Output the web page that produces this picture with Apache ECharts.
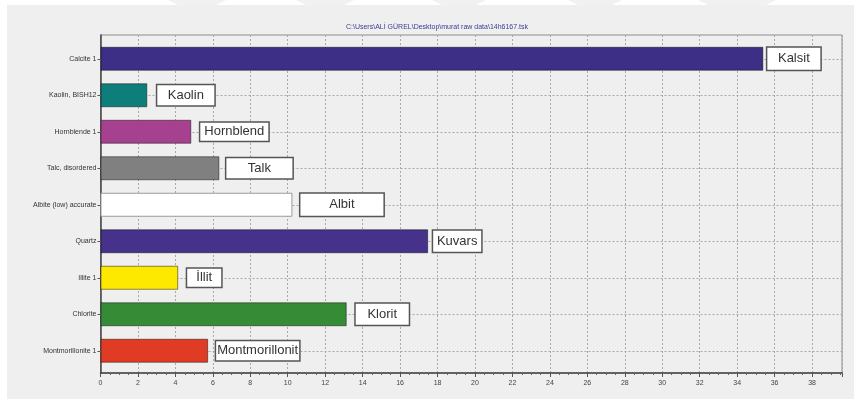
<!DOCTYPE html>
<html>
<head>
<meta charset="utf-8">
<title>14h6167</title>
<script src="https://cdn.jsdelivr.net/npm/echarts@6/dist/echarts.min.js"></script>
<style>
  html, body { margin: 0; padding: 0; background: #ffffff; }
  #chart { width: 854px; height: 399px; }
</style>
</head>
<body>
<div id="chart"></div>
<script>
// Phase names as listed by the search-match file
const phases = [
  'Calcite 1', 'Kaolin, BISH12', 'Hornblende 1', 'Talc, disordered',
  'Albite (low) accurate', 'Quartz', 'Illite 1', 'Chlorite', 'Montmorillonite 1'
];
// Amount of each phase
const amounts = [35.4, 2.5, 4.85, 6.35, 10.25, 17.5, 4.15, 13.15, 5.75];
// Turkish mineral names written next to each bar
const mineralNames = [
  'Kalsit', 'Kaolin', 'Hornblend', 'Talk', 'Albit', 'Kuvars', 'İllit', 'Klorit', 'Montmorillonit'
];
const xTicks = ['0','2','4','6','8','10','12','14','16','18','20','22','24','26','28','30','32','34','36','38'];
const titleText = 'C:\\Users\\ALİ GÜREL\\Desktop\\murat raw data\\14h6167.tsk';

// Styling
const barColors = ['#3e2f86', '#0d7e7a', '#a6418f', '#808080', '#ffffff', '#46328a', '#fde900', '#368b37', '#e03b25'];
const boxWidth = [53, 57, 68, 66, 83, 48, 34, 53, 83];
const boxHeight = [22, 20, 18, 20, 22, 21, 18, 21, 19];
const boxGap = [4, 10, 9, 7, 8, 5, 9, 9, 8];
const FONT = '"Liberation Sans", Arial, Helvetica, sans-serif';
const X_MAX = 39.6;

const chart = echarts.init(document.getElementById('chart'), null, { renderer: 'canvas' });

const barData = amounts.map((v, i) => ({
  value: v,
  itemStyle: {
    color: barColors[i],
    borderColor: i === 4 ? '#9a9a9a' : 'rgba(0,0,0,0.45)',
    borderWidth: 1
  },
  label: {
    show: true,
    position: 'right',
    distance: boxGap[i],
    formatter: '{b|' + mineralNames[i] + '}',
    rich: {
      b: {
        width: boxWidth[i],
        height: boxHeight[i],
        lineHeight: boxHeight[i],
        align: 'center',
        fontSize: 13,
        fontFamily: FONT,
        color: '#333333',
        backgroundColor: '#ffffff',
        borderColor: '#555555',
        borderWidth: 1.5,
        padding: 0
      }
    }
  }
}));

const option = {
  backgroundColor: '#ffffff',
  animation: false,
  textStyle: { fontFamily: FONT },
  graphic: [
    { type: 'rect', z: -100, shape: { x: 7, y: 5, width: 847, height: 394 }, style: { fill: '#efefef' } },
    { type: 'polygon', z: -100, shape: { points: [[168, 0], [226, 0], [216, 5], [178, 5]] }, style: { fill: '#f1f1f1' } },
    { type: 'polygon', z: -100, shape: { points: [[296, 0], [354, 0], [344, 5], [306, 5]] }, style: { fill: '#f1f1f1' } },
    { type: 'polygon', z: -100, shape: { points: [[432, 0], [486, 0], [476, 5], [442, 5]] }, style: { fill: '#f1f1f1' } },
    { type: 'polygon', z: -100, shape: { points: [[568, 0], [622, 0], [612, 5], [578, 5]] }, style: { fill: '#f1f1f1' } },
    { type: 'polygon', z: -100, shape: { points: [[698, 0], [776, 0], [766, 5], [708, 5]] }, style: { fill: '#f1f1f1' } },
    {
      type: 'text', x: 437, y: 27,
      style: { text: titleText, align: 'center', verticalAlign: 'middle', fontSize: 7, fontFamily: FONT, fill: '#3b3b98' }
    }
  ],
  grid: [
    // outer plotting frame
    { left: 100.5, right: 12, top: 35, bottom: 26, show: true, borderColor: '#8c8c8c', borderWidth: 1, backgroundColor: 'transparent' },
    // band area holding the bars
    { left: 100.5, right: 12, top: 40.5, bottom: 30, show: false }
  ],
  xAxis: [
    {
      gridIndex: 0,
      type: 'value',
      min: 0,
      max: X_MAX,
      interval: 2,
      axisLine: { show: true, lineStyle: { color: '#444444', width: 1.5 } },
      axisTick: { show: true, length: 4, lineStyle: { color: '#555555' } },
      minorTick: { show: true, splitNumber: 4, length: 2, lineStyle: { color: '#666666' } },
      axisLabel: {
        show: true, fontSize: 7, color: '#444444', margin: 7, showMaxLabel: false,
        formatter: (v) => xTicks[Math.round(v / 2)] !== undefined && Math.abs(v / 2 - Math.round(v / 2)) < 1e-6 ? xTicks[Math.round(v / 2)] : ''
      },
      splitLine: { show: true, lineStyle: { color: '#a8a8a8', width: 1, type: [2, 2] } }
    },
    { gridIndex: 1, type: 'value', min: 0, max: X_MAX, show: false }
  ],
  yAxis: [
    {
      gridIndex: 0,
      type: 'value',
      position: 'left',
      axisLine: { show: true, lineStyle: { color: '#444444', width: 1.5 } },
      axisTick: { show: false },
      axisLabel: { show: false },
      splitLine: { show: false }
    },
    {
      gridIndex: 1,
      type: 'category',
      inverse: true,
      data: phases,
      axisLine: { show: false },
      axisTick: { show: true, alignWithLabel: true, length: 3, lineStyle: { color: '#555555' } },
      axisLabel: { fontSize: 7, color: '#333333', margin: 4 },
      splitLine: { show: false }
    }
  ],
  series: [
    {
      // dashed guide lines through each phase row, kept beneath the bars
      type: 'line',
      xAxisIndex: 1,
      yAxisIndex: 1,
      data: [],
      z: 1,
      silent: true,
      markLine: {
        z: 1,
        silent: true,
        symbol: ['none', 'none'],
        label: { show: false },
        lineStyle: { color: '#a8a8a8', width: 1, type: [2, 2] },
        data: phases.map((p) => ({ yAxis: p }))
      }
    },
    {
      type: 'bar',
      xAxisIndex: 1,
      yAxisIndex: 1,
      barWidth: 24,
      z: 3,
      data: barData
    }
  ]
};

chart.setOption(option);
</script>
</body>
</html>
